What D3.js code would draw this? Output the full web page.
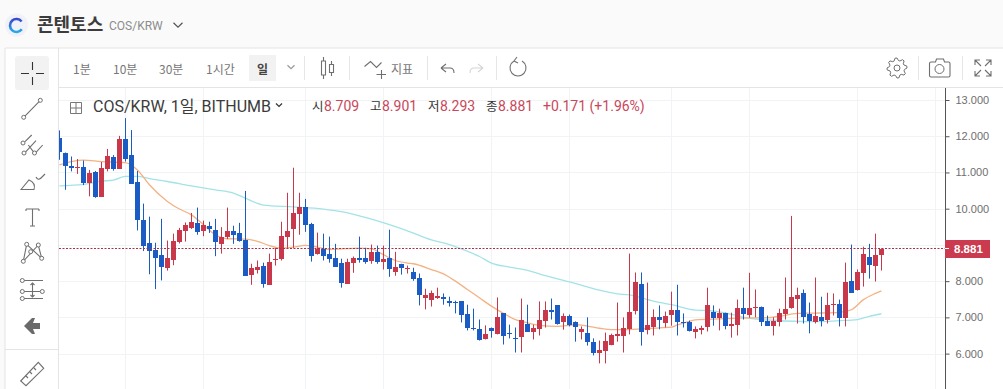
<!DOCTYPE html>
<html>
<head>
<meta charset="utf-8">
<script src="https://cdn.jsdelivr.net/npm/d3@7"></script>
<style>
  html, body { margin: 0; padding: 0; background: #fff; overflow: hidden; }
  svg { display: block; font-family: Roboto, "Noto Sans CJK KR", sans-serif; }
</style>
</head>
<body>
<div id="chart"></div>
<script>
const opens = [11.94,11.53,11.18,11.15,11.16,10.72,11.02,10.33,11.10,11.43,11.10,11.93,11.49,10.74,9.70,9.06,8.87,8.73,8.37,8.60,9.09,9.39,9.47,9.61,9.40,9.53,9.42,9.04,9.23,
  9.39,9.34,9.14,8.15,8.32,8.43,7.90,8.60,8.62,9.23,9.45,9.86,10.05,9.58,8.76,8.90,8.76,8.65,8.51,7.93,8.51,8.65,8.65,8.57,8.81,8.54,8.65,8.26,8.48,8.33,
  8.26,8.10,7.55,7.49,7.54,7.57,7.46,7.43,7.44,7.08,6.72,6.69,6.39,6.72,6.53,7.11,6.57,6.44,6.47,6.83,6.61,6.69,6.89,7.19,7.33,6.89,7.05,
  6.86,6.61,6.58,6.33,6.03,6.09,6.23,6.47,6.50,6.69,7.19,7.93,6.67,6.72,7.00,6.86,7.05,7.21,6.86,6.86,6.61,6.67,6.72,7.16,6.97,7.11,6.77,6.80,
  7.27,7.08,7.27,7.30,6.91,6.75,6.86,7.08,7.24,7.52,7.66,7.08,6.89,7.02,6.91,7.35,7.38,7.00,8.01,7.77,8.23,8.68,8.43,8.709];
const closes = [11.55,11.16,11.13,11.16,10.71,10.99,10.33,11.13,11.46,11.10,11.93,11.38,10.70,9.68,8.98,8.85,8.65,8.40,8.65,9.12,9.42,9.56,9.64,9.36,9.56,9.45,9.09,9.23,9.39,
  9.28,9.12,8.15,8.35,8.40,7.93,8.54,8.62,9.25,9.39,9.89,10.05,9.56,8.70,8.90,8.70,8.62,8.40,7.96,8.54,8.65,8.59,8.54,8.81,8.54,8.62,8.35,8.40,8.37,8.35,
  8.07,7.63,7.63,7.68,7.60,7.52,7.41,7.40,7.05,6.69,6.69,6.39,6.53,6.64,7.00,6.47,6.53,6.43,6.94,6.61,6.72,6.94,7.19,7.13,6.80,7.05,6.80,
  6.72,6.69,6.33,6.03,6.11,6.36,6.50,6.53,6.72,7.16,7.99,6.61,6.80,7.00,6.91,7.05,7.19,6.88,6.84,6.61,6.69,6.72,7.33,7.00,7.11,6.75,6.83,7.27,
  7.11,7.27,7.30,6.89,6.78,6.89,7.11,7.22,7.55,7.63,7.00,6.89,7.05,6.91,7.33,7.38,7.00,7.99,7.68,8.26,8.76,8.46,8.73,8.881];
const highs = [12.16,11.55,11.44,11.37,11.33,11.07,11.04,11.29,11.65,11.48,12.01,12.50,12.17,11.04,10.14,9.78,9.06,9.72,9.12,9.31,9.47,9.62,9.88,10.03,9.67,9.64,9.72,9.49,10.03,
  9.53,9.61,10.49,8.48,8.57,8.51,8.76,8.92,9.64,10.44,11.13,10.44,10.27,9.61,9.34,9.31,9.23,9.03,8.62,8.62,8.68,9.23,8.92,9.01,8.98,8.98,9.42,8.81,8.48,8.43,
  8.37,8.21,7.79,7.74,7.82,7.66,7.57,7.46,7.44,7.35,7.24,6.94,6.78,6.72,7.55,7.11,6.80,6.72,7.52,7.35,6.80,7.44,7.44,7.52,7.33,7.11,7.08,
  6.89,6.75,7.00,6.42,6.36,6.58,6.55,7.41,7.00,8.76,8.24,8.24,7.96,7.22,7.33,7.16,7.71,7.90,7.11,6.91,6.75,6.77,7.82,7.33,7.24,7.13,7.13,7.49,
  7.82,8.23,7.77,7.30,7.05,7.00,7.24,8.10,9.80,7.82,7.77,7.41,8.10,7.57,7.68,7.66,7.49,8.51,9.01,8.32,8.95,9.03,9.31,8.901];
const lows = [11.35,10.52,11.03,10.96,10.65,10.34,10.30,10.33,11.03,11.05,11.10,11.30,10.70,9.40,8.83,8.19,7.78,8.02,8.29,8.44,9.04,9.09,9.44,9.28,9.24,9.33,8.69,8.76,9.16,
  9.03,9.09,8.15,7.90,8.21,7.82,7.90,8.43,8.57,8.92,8.92,9.28,9.36,8.54,8.73,8.57,8.51,8.40,7.82,7.93,8.23,8.51,8.48,8.48,8.48,8.32,8.12,8.15,8.18,8.21,
  8.01,7.33,7.22,7.30,7.51,7.35,7.30,7.11,6.86,6.64,6.64,6.36,6.39,6.44,6.53,6.25,6.42,6.03,6.03,6.61,6.39,6.50,6.72,6.94,6.80,6.66,6.75,
  6.33,6.39,6.22,5.95,5.73,5.73,6.23,6.33,6.03,6.53,7.08,6.22,6.53,6.50,6.67,6.72,6.77,6.50,6.72,6.61,6.42,6.53,6.61,6.77,6.64,6.67,6.44,6.50,
  6.94,6.99,7.00,6.76,6.76,6.50,6.75,6.94,7.24,6.83,6.83,6.56,6.83,6.75,6.83,7.05,6.75,6.75,7.68,7.74,7.85,8.07,7.99,8.293];

const maShortDays = [0,2,4,7,11,13,15,18,20,22,24,26,28,31,33,35,37,39,41,43,45,47,50,52,54,56,58,59,62,64,66,68,70,72,74,76,78,80,83,85,86,88,90,92,94,97,100,102,103,105,106,110,113,118,120,123,127,130,132,134,136,137];
const maShort = [11.21,11.30,11.34,11.30,11.27,11.07,10.66,10.20,9.99,9.83,9.56,9.28,9.17,9.16,9.10,8.98,8.91,8.94,8.99,8.94,8.87,8.89,8.91,8.89,8.73,8.57,8.50,8.48,8.32,8.20,8.00,7.77,7.54,7.31,7.11,6.94,6.85,6.78,6.75,6.78,6.80,6.76,6.70,6.66,6.66,6.68,6.71,6.73,6.79,6.89,6.93,6.96,6.98,6.99,7.03,7.11,7.12,7.14,7.21,7.49,7.66,7.73];
const maLongDays = [0,4,7,9,11,13,15,18,22,26,29,31,34,39,44,47,52,55,58,62,65,67,70,72,75,78,81,84,85,88,90,93,95,99,102,106,108,113,115,119,125,130,133,135,137];
const maLong = [10.63,10.67,10.76,10.79,10.89,10.89,10.83,10.75,10.63,10.52,10.43,10.29,10.10,10.05,9.99,9.92,9.71,9.56,9.39,9.14,9.01,8.89,8.68,8.50,8.39,8.30,8.15,8.02,7.98,7.84,7.75,7.65,7.62,7.45,7.35,7.20,7.19,7.05,6.97,6.92,6.88,6.91,6.94,7.03,7.10];

const gridPrices = [13,12,11,10,9,8,7,6];
const priceTicks = [13,12,11,10,8,7,6]; // 9.000 sits under the price tag
const gridDays = [11,24,41,54,72,85,102,115,133,146];
const lastPrice = 8.881;
const intervals = ["1분","10분","30분","1시간"];
const intervalX = [73,113,159,206];

const W = 1003, H = 389;
const plot = { left: 59, right: 945, top: 88, bottom: 389 };
const palette = { up: "#c9374b", down: "#1b5cc4", maShort: "#f5b183", maLong: "#a3e3e8", grid: "#f1f4f6", icon: "#6f6f6f", line: "#e4e4e4" };

const svg = d3.select("#chart").append("svg").attr("width", W).attr("height", H);

// scales
const x = d3.scaleLinear().domain([0, 137]).range([59.4, 881.4]);
const y = d3.scaleLinear().domain([6, 13]).range([353.6, 100]);

// page frame
svg.append("rect").attr("width", W).attr("height", 48).attr("fill", "#fafafa");
svg.append("rect").attr("y", 48).attr("width", 5).attr("height", H - 48).attr("fill", "#fafafa");
const frame = [[5, 48, W, 48], [5, 48, 5, H], [58.5, 48, 58.5, H], [59, 87.5, W, 87.5], [5, 349.5, 58, 349.5]];
svg.append("g").selectAll("line").data(frame).join("line")
  .attr("x1", d => d[0]).attr("y1", d => d[1]).attr("x2", d => d[2]).attr("y2", d => d[3])
  .attr("stroke", palette.line);

setupHeader();
setupToolbar();
setupTools();

// grid
const clipId = "plot-clip";
svg.append("clipPath").attr("id", clipId).append("rect")
  .attr("x", plot.left).attr("y", plot.top).attr("width", plot.right - plot.left).attr("height", plot.bottom - plot.top);

const grid = svg.append("g").attr("stroke", palette.grid);
grid.selectAll(".h").data(gridPrices).join("line").attr("class", "h")
  .attr("x1", plot.left).attr("x2", plot.right)
  .attr("y1", d => Math.round(y(d)) + 0.5).attr("y2", d => Math.round(y(d)) + 0.5);
grid.selectAll(".v").data(gridDays).join("line").attr("class", "v")
  .attr("x1", d => Math.floor(x(d)) + 0.5).attr("x2", d => Math.floor(x(d)) + 0.5)
  .attr("y1", plot.top).attr("y2", plot.bottom);

const chart = svg.append("g").attr("clip-path", `url(#${clipId})`);

// moving averages
const lineGenerator = d3.line().x(d => x(d[0])).y(d => y(d[1])).curve(d3.curveMonotoneX);
chart.append("path").datum(d3.zip(maLongDays, maLong))
  .attr("d", lineGenerator).attr("fill", "none").attr("stroke", palette.maLong).attr("stroke-width", 1.3);
chart.append("path").datum(d3.zip(maShortDays, maShort))
  .attr("d", lineGenerator).attr("fill", "none").attr("stroke", palette.maShort).attr("stroke-width", 1.3);

// candles
const candles = d3.range(opens.length).map(i => ({ i, o: opens[i], h: highs[i], l: lows[i], c: closes[i] }));
const candleColor = d => d.c >= d.o ? palette.up : palette.down;
const candle = chart.selectAll(".candle").data(candles).join("g").attr("class", "candle");
candle.append("line")
  .attr("x1", d => Math.floor(x(d.i)) + 0.5).attr("x2", d => Math.floor(x(d.i)) + 0.5)
  .attr("y1", d => y(d.h)).attr("y2", d => y(d.l))
  .attr("stroke", candleColor);
candle.append("rect")
  .attr("x", d => Math.floor(x(d.i)) - 2)
  .attr("width", 5)
  .attr("y", d => Math.round(y(Math.max(d.o, d.c))))
  .attr("height", d => Math.max(1, Math.round(Math.abs(y(d.o) - y(d.c)))))
  .attr("fill", candleColor);

// last price line
chart.append("line")
  .attr("x1", plot.left).attr("x2", plot.right)
  .attr("y1", Math.round(y(lastPrice)) - 0.5).attr("y2", Math.round(y(lastPrice)) - 0.5)
  .attr("stroke", "#a8324a").attr("stroke-dasharray", "2,1.5");

// price axis
const axis = svg.append("g").attr("transform", `translate(${plot.right + 0.5},0)`)
  .call(d3.axisRight(y).tickValues(priceTicks).tickFormat(d3.format(".3f")).tickSize(4).tickPadding(6));
axis.select(".domain").remove();
axis.append("line").attr("y1", plot.top).attr("y2", H).attr("stroke", "#555");
axis.selectAll(".tick line").attr("stroke", "#555");
axis.selectAll("text")
  .attr("fill", "#6e6e6e")
  .style("font-family", "'Liberation Sans', Arial, sans-serif")
  .style("font-size", "11px");

// last price tag
const tagY = Math.round(y(lastPrice));
svg.append("rect").attr("x", 945).attr("y", tagY - 9).attr("width", 45).attr("height", 18).attr("fill", "#cb3a4e");
svg.append("line").attr("x1", 945).attr("x2", 949).attr("y1", tagY - 0.5).attr("y2", tagY - 0.5).attr("stroke", "#fff");
svg.append("text").attr("x", 954).attr("y", tagY + 4).text("8.881")
  .attr("fill", "#fff").style("font-family", "'Liberation Sans', Arial, sans-serif").style("font-size", "11.5px").style("font-weight", "bold");

setupLegend();

function setupHeader() {
  const grad = svg.append("linearGradient").attr("id", "logo-grad").attr("x1", 0).attr("y1", 0).attr("x2", 0).attr("y2", 1);
  grad.append("stop").attr("offset", "0%").attr("stop-color", "#3b3fc9");
  grad.append("stop").attr("offset", "100%").attr("stop-color", "#25b4ea");
  const logo = svg.append("g");
  logo.append("circle").attr("cx", 16.5).attr("cy", 25).attr("r", 11.5).attr("fill", "#f0f2f8");
  logo.append("path").attr("d", d3.arc()({ innerRadius: 5.2, outerRadius: 7.8, startAngle: 2.2, endAngle: 7.18 }))
    .attr("transform", "translate(16.5,25.5)").attr("fill", "url(#logo-grad)");
  svg.append("text").attr("x", 37).attr("y", 31).text("콘텐토스")
    .attr("fill", "#3c3c3c").style("font-family", "'Noto Sans CJK KR'").style("font-size", "18px").style("font-weight", "700");
  svg.append("text").attr("x", 109).attr("y", 30).text("COS/KRW").attr("fill", "#8c8c8c").style("font-size", "12px");
  chevron(178, 25, 4.5, "#555");
}

function chevron(cx, cy, r, color) {
  svg.append("path").attr("d", `M${cx - r},${cy - r / 2}L${cx},${cy + r / 2}L${cx + r},${cy - r / 2}`)
    .attr("fill", "none").attr("stroke", color).attr("stroke-width", 1.2);
}

function setupToolbar() {
  const bar = svg.append("g");
  bar.selectAll(".interval").data(intervals).join("text").attr("class", "interval")
    .attr("x", (d, i) => intervalX[i]).attr("y", 74).text(d => d)
    .attr("fill", "#777").style("font-family", "'Noto Sans CJK KR'").style("font-size", "12px");
  bar.append("rect").attr("x", 249).attr("y", 55).attr("width", 27).attr("height", 26).attr("fill", "#f2f2f2");
  bar.append("text").attr("x", 257).attr("y", 74).text("일").attr("fill", "#444")
    .style("font-family", "'Noto Sans CJK KR'").style("font-size", "12px").style("font-weight", "700");
  chevron(291, 67, 3.5, "#999");
  bar.append("g").selectAll("line").data([304, 349, 427, 496, 918, 962]).join("line")
    .attr("x1", d => d + 0.5).attr("x2", d => d + 0.5).attr("y1", 56).attr("y2", 80).attr("stroke", "#e6e6e6");
  bar.append("text").attr("x", 391).attr("y", 74).text("지표").attr("fill", "#777")
    .style("font-family", "'Noto Sans CJK KR'").style("font-size", "12px");

  const icons = [
    { d: "M321.5,61h4v14h-4zM323.5,57v4M323.5,75v4M329.5,64.5h4v8h-4zM331.5,61v3.5M331.5,72.5v3.5" },
    { d: "M364.5,66.5L370.5,61.5L376.5,67.5L381.5,62.5M376.5,74.5h9.5M381.5,70v9" },
    { d: "M441,68l5,-4M441,68l5,4M441,68h9c3,0 4,2 4,5" },
    { d: "M483,68l-5,-4M483,68l-5,4M483,68h-9c-3,0 -4,2 -4,5", color: "#d5d5d5" },
    { d: "M514,61A8,8 0 1 0 522,61M517,57l-3,4l4,2" },
    { d: "M931.5,62h4l1,-3h7l1,3h4q1.5,0 1.5,1.5v12q0,1.5 -1.5,1.5h-17.5q-1.5,0 -1.5,-1.5v-12q0,-1.5 1.5,-1.5z" },
    { d: "M975,65v-5h5M975,60l6,6M991,65v-5h-5M991,60l-6,6M975,71v5h5M975,76l6,-6M991,71v5h-5M991,76l-6,-6" }
  ];
  bar.selectAll(".icon").data(icons).join("path").attr("class", "icon")
    .attr("d", d => d.d).attr("fill", "none").attr("stroke", d => d.color || palette.icon).attr("stroke-width", 1.1);
  bar.append("circle").attr("cx", 939.5).attr("cy", 69).attr("r", 4.5).attr("fill", "none").attr("stroke", palette.icon);

  // gear outline
  const gearRadii = [10, 10, 7.6, 7.6];
  const gearPts = d3.range(32).map(i => [(i - 1) * Math.PI / 16, gearRadii[i % 4]]);
  bar.append("path").attr("d", d3.lineRadial()(gearPts) + "Z")
    .attr("transform", "translate(897,68)").attr("fill", "none").attr("stroke", palette.icon).attr("stroke-linejoin", "round");
  bar.append("circle").attr("cx", 897).attr("cy", 68).attr("r", 3).attr("fill", "none").attr("stroke", palette.icon);
}

function setupTools() {
  const g = svg.append("g");
  g.append("rect").attr("x", 15).attr("y", 56).attr("width", 34).attr("height", 34).attr("rx", 3).attr("fill", "#f2f2f2");
  const paths = [
    { d: "M21,73.5h8M36,73.5h8M32.5,62v8M32.5,77v8", color: "#333" },
    { d: "M23.7,117.3L40.3,100.3" },
    { d: "M25,141.7L31.7,135M25,152.7L36,140.7M36,152.3L42.7,145M28.3,145L33.3,151.7" },
    { d: "M21,189.5L29,180Q36,183 34,189.5ZM36,177Q38,181 41,178L45,174" },
    { d: "M26,209h13M26,209v2M39,209v2M32.5,209v17M30,226h5" },
    { d: "M26.7,244.3L23.3,261.3L38.3,245L41.7,258.3L26.7,244.3" },
    { d: "M24,280.5h19M24,291.5h16M24,298.5h19M32.5,283v14M30.5,285l2,-2l2,2M30.5,295l2,2l2,-2" },
    { d: "M20.7,381L38.3,362.3L43.7,368.3L26,385.7ZM26,376l2,2M30,372l2,2M34,368l2,2" }
  ];
  g.selectAll("path").data(paths).join("path")
    .attr("d", d => d.d).attr("fill", "none").attr("stroke", d => d.color || palette.icon).attr("stroke-width", 1.1);
  g.append("path").attr("d", "M24,326l8,-8h3l-2,5h7v6h-7l2,5h-3z").attr("fill", "#6a6a6a");
  const dots = [[23.7, 117.3], [40.3, 100.3], [23, 143], [24, 153], [34.5, 153], [26.7, 244.3], [38.3, 245], [30.7, 251.7], [23.3, 261.3], [41.7, 258.3], [22.3, 280.5], [22.3, 291.5], [42.3, 291.5], [22.3, 298.5]];
  g.selectAll("circle").data(dots).join("circle")
    .attr("cx", d => d[0]).attr("cy", d => d[1]).attr("r", 2).attr("fill", "#fff").attr("stroke", palette.icon);
}

function setupLegend() {
  const g = svg.append("g");
  g.append("path").attr("d", "M70.5,102.5h11v11h-11zM76,103v10M71,108h10").attr("fill", "none").attr("stroke", "#777");
  g.append("text").attr("x", 93).attr("y", 112).text("COS/KRW, 1일, BITHUMB").attr("fill", "#3b3b3b").style("font-size", "16px");
  chevron(279, 105, 3, "#333");
  const labels = ["시", "고", "저", "종"];
  const labelX = [312, 370, 428, 486];
  const values = ["8.709", "8.901", "8.293", "8.881"];
  g.selectAll(".lab").data(labels).join("text").attr("class", "lab")
    .attr("x", (d, i) => labelX[i]).attr("y", 111).text(d => d).attr("fill", "#333")
    .style("font-family", "'Noto Sans CJK KR'").style("font-size", "12.5px");
  g.selectAll(".val").data(values).join("text").attr("class", "val")
    .attr("x", (d, i) => labelX[i] + 12).attr("y", 111).text(d => d).attr("fill", "#c9475b").style("font-size", "14px");
  g.append("text").attr("x", 543).attr("y", 111).text("+0.171 (+1.96%)").attr("fill", "#c9475b").style("font-size", "14px");
}
</script>
</body>
</html>
